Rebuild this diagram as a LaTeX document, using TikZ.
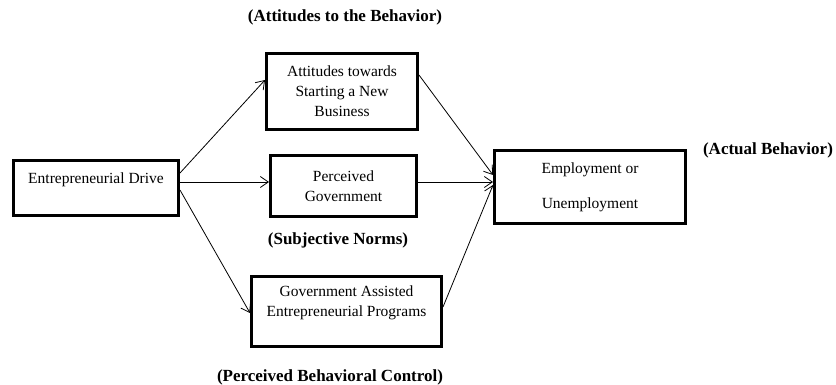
\documentclass[tikz,border=0pt]{standalone}
\usepackage{fontspec}
\setmainfont{Liberation Serif}
\usetikzlibrary{arrows.meta}
\begin{document}
\begin{tikzpicture}[x=1pt,y=-1pt,
  box/.style={draw,line width=3pt,align=center,inner sep=0pt,font=\fontsize{15.5}{20}\selectfont},
  head/.style={font=\fontsize{17}{20}\selectfont\bfseries,inner sep=0pt},
  link/.style={-{Straight Barb[length=8pt,width=11pt]},line width=0.8pt}]
\useasboundingbox (0,0) rectangle (836,385);

\node[box,minimum width=165pt,minimum height=55pt](drive) at (96,188) {Entrepreneurial Drive\\ ~};
\node[box,minimum width=151pt,minimum height=76pt](attitude) at (342,91.5) {Attitudes towards\\Starting a New\\Business};
\node[box,minimum width=146pt,minimum height=61pt](govt) at (343.5,186) {Perceived\\Government};
\node[box,minimum width=190pt,minimum height=70pt](program) at (346.5,311.5) {Government Assisted\\Entrepreneurial Programs\\ ~};
\node[box,minimum width=191pt,minimum height=73pt](employ) at (590,187) {Employment or\\[15pt]Unemployment};

\node[head](attitudehead) at (345,17) {(Attitudes to the Behavior)};
\node[head](govthead) at (338,240) {(Subjective Norms)};
\node[head](programhead) at (330,377) {(Perceived Behavioral Control)};
\node[head](employhead) at (768,150) {(Actual Behavior)};

\draw[link] ([yshift=15pt]drive.east) -- ([yshift=11.5pt]attitude.west);
\draw[link] ([yshift=6pt]drive.east) -- ([yshift=4pt]govt.west);
\draw[link] ([yshift=-2pt]drive.east) -- ([yshift=-1.5pt]program.west);

\draw[link] ([yshift=16.5pt]attitude.east) -- ([yshift=12pt]employ.west);
\draw[link] ([yshift=4pt]govt.east) -- ([yshift=5pt]employ.west);
\draw[link] ([yshift=4.5pt]program.east) -- ([yshift=2pt]employ.west);

\end{tikzpicture}
\end{document}
